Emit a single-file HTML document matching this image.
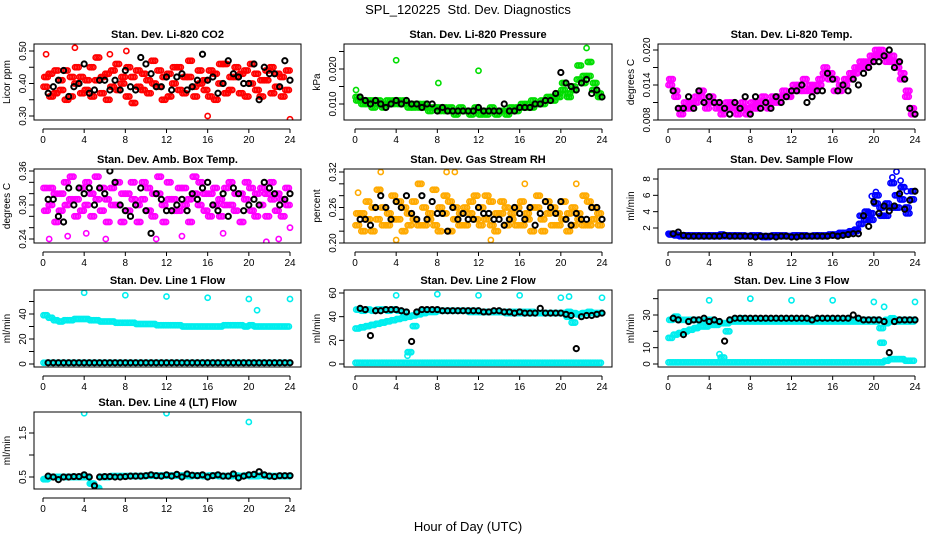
<!DOCTYPE html>
<html><head><meta charset="utf-8"><style>
body{margin:0;background:#fff;}
svg{display:block;font-family:"Liberation Sans",sans-serif;}
</style></head><body>
<svg id="chart" width="936" height="540" viewBox="0 0 936 540">
<text x="468" y="14" text-anchor="middle" font-size="13">SPL_120225&#160; Std. Dev. Diagnostics</text>
<text x="468" y="531" text-anchor="middle" font-size="13">Hour of Day (UTC)</text>
</svg>
<script>
const hourTicks=[0,4,8,12,16,20,24];
const co2A=[0.39,0.43,0.37,0.41,0.44,0.36,0.40,0.42,0.38,0.45,0.41,0.37,0.43,0.39,0.46,0.40,0.36,0.42,0.44,0.38,0.41,0.47,0.39,0.35,0.43,0.40,0.45,0.37,0.42,0.39,0.44,0.41,0.36,0.43,0.40,0.46,0.38,0.42,0.37,0.44,0.40,0.43,0.36,0.41,0.45,0.39,0.42,0.38];
const co2B=[0.42,0.36,0.44,0.38,0.35,0.42,0.45,0.37,0.41,0.36,0.48,0.42,0.35,0.44,0.38,0.42,0.45,0.34,0.39,0.43,0.37,0.40,0.44,0.42,0.36,0.45,0.38,0.42,0.47,0.36,0.40,0.38,0.44,0.35,0.46,0.37,0.42,0.45,0.43,0.36,0.46,0.38,0.41,0.44,0.37,0.43,0.36,0.44];
const co2K=[0.37,0.39,0.41,0.44,0.36,0.39,0.40,0.46,0.37,0.38,0.41,0.41,0.38,0.41,0.38,0.44,0.39,0.38,0.48,0.46,0.43,0.39,0.39,0.42,0.38,0.42,0.43,0.38,0.39,0.41,0.49,0.41,0.42,0.37,0.40,0.47,0.43,0.42,0.40,0.40,0.46,0.35,0.45,0.43,0.43,0.39,0.47,0.41];
const co2OutX=[3.1,8.1,16,24,0.3,6.5];
const co2OutY=[0.51,0.50,0.30,0.29,0.49,0.49];
const presA=[0.012,0.011,0.010,0.011,0.010,0.010,0.011,0.010,0.011,0.010,0.010,0.009,0.010,0.009,0.009,0.009,0.008,0.009,0.008,0.008,0.008,0.008,0.008,0.008,0.007,0.008,0.008,0.008,0.008,0.008,0.009,0.008,0.009,0.010,0.009,0.010,0.011,0.011,0.012,0.013,0.014,0.013,0.015,0.017,0.016,0.018,0.014,0.013];
const presB=[0.011,0.010,0.011,0.009,0.011,0.009,0.010,0.011,0.010,0.011,0.009,0.010,0.009,0.010,0.008,0.009,0.009,0.008,0.009,0.007,0.009,0.008,0.007,0.009,0.008,0.007,0.009,0.007,0.008,0.007,0.008,0.009,0.010,0.009,0.011,0.010,0.010,0.012,0.011,0.012,0.016,0.012,0.014,0.021,0.018,0.022,0.016,0.012];
const presK=[0.012,0.011,0.010,0.011,0.010,0.009,0.010,0.011,0.010,0.011,0.010,0.010,0.009,0.010,0.010,0.008,0.009,0.008,0.008,0.008,0.008,0.008,0.008,0.009,0.008,0.008,0.008,0.008,0.010,0.008,0.008,0.009,0.009,0.009,0.010,0.010,0.011,0.011,0.013,0.019,0.016,0.015,0.014,0.016,0.017,0.013,0.014,0.012];
const presOutX=[4,12,8.1,22.5,0.1];
const presOutY=[0.0225,0.0195,0.016,0.026,0.014];
const tempA=[0.014,0.013,0.010,0.011,0.010,0.011,0.012,0.011,0.012,0.011,0.010,0.010,0.011,0.010,0.010,0.009,0.011,0.010,0.011,0.011,0.012,0.011,0.012,0.012,0.013,0.014,0.013,0.013,0.014,0.014,0.016,0.015,0.015,0.013,0.014,0.015,0.016,0.017,0.018,0.018,0.019,0.020,0.019,0.018,0.018,0.015,0.012,0.010];
const tempB=[0.015,0.012,0.009,0.010,0.011,0.012,0.013,0.010,0.011,0.010,0.009,0.011,0.010,0.009,0.011,0.010,0.010,0.011,0.012,0.010,0.011,0.012,0.013,0.012,0.014,0.013,0.015,0.014,0.013,0.015,0.017,0.016,0.013,0.014,0.015,0.016,0.017,0.018,0.017,0.019,0.020,0.019,0.018,0.019,0.017,0.016,0.013,0.009];
const tempK=[0.013,0.010,0.010,0.012,0.010,0.013,0.011,0.012,0.011,0.011,0.010,0.009,0.011,0.010,0.012,0.009,0.012,0.010,0.011,0.010,0.012,0.011,0.012,0.013,0.013,0.014,0.011,0.012,0.013,0.013,0.016,0.015,0.013,0.014,0.013,0.015,0.014,0.016,0.017,0.018,0.018,0.019,0.020,0.017,0.018,0.015,0.010,0.009];
const ambA=[0.33,0.30,0.32,0.29,0.34,0.31,0.28,0.33,0.30,0.32,0.35,0.29,0.31,0.33,0.30,0.27,0.32,0.34,0.30,0.31,0.33,0.28,0.32,0.30,0.34,0.31,0.29,0.33,0.31,0.35,0.30,0.32,0.28,0.33,0.31,0.30,0.34,0.29,0.32,0.31,0.33,0.28,0.30,0.32,0.34,0.29,0.31,0.33];
const ambB=[0.29,0.33,0.27,0.32,0.30,0.35,0.31,0.29,0.34,0.28,0.31,0.33,0.27,0.30,0.34,0.32,0.29,0.31,0.27,0.34,0.29,0.32,0.35,0.27,0.31,0.29,0.33,0.30,0.27,0.32,0.34,0.29,0.32,0.30,0.28,0.33,0.30,0.32,0.27,0.34,0.29,0.32,0.33,0.28,0.31,0.32,0.28,0.30];
const ambK=[0.31,0.31,0.28,0.27,0.33,0.30,0.33,0.32,0.33,0.30,0.33,0.32,0.36,0.34,0.30,0.29,0.28,0.30,0.33,0.29,0.25,0.32,0.31,0.29,0.29,0.30,0.31,0.29,0.32,0.31,0.33,0.34,0.30,0.29,0.32,0.28,0.33,0.32,0.29,0.30,0.31,0.30,0.34,0.33,0.32,0.30,0.31,0.32];
const ambOutX=[0.6,2.4,4.2,6.1,11,13.5,17.5,21.7,22.9,24];
const ambOutY=[0.24,0.245,0.25,0.24,0.24,0.245,0.25,0.235,0.24,0.26];
const rhA=[0.23,0.25,0.27,0.22,0.24,0.26,0.23,0.28,0.24,0.22,0.25,0.27,0.23,0.26,0.24,0.29,0.22,0.25,0.27,0.24,0.23,0.26,0.25,0.28,0.23,0.24,0.27,0.22,0.25,0.26,0.24,0.23,0.27,0.25,0.22,0.26,0.24,0.27,0.23,0.25,0.24,0.22,0.26,0.25,0.23,0.27,0.24,0.25];
const rhB=[0.25,0.22,0.24,0.26,0.29,0.23,0.25,0.24,0.27,0.26,0.23,0.24,0.30,0.23,0.25,0.23,0.26,0.28,0.22,0.26,0.25,0.23,0.27,0.24,0.26,0.28,0.23,0.25,0.27,0.23,0.25,0.26,0.23,0.24,0.26,0.28,0.22,0.25,0.26,0.23,0.27,0.25,0.23,0.24,0.28,0.23,0.26,0.23];
const rhK=[0.24,0.24,0.23,0.26,0.28,0.26,0.24,0.27,0.26,0.28,0.25,0.24,0.28,0.24,0.27,0.25,0.25,0.22,0.26,0.24,0.25,0.24,0.24,0.26,0.25,0.25,0.24,0.24,0.23,0.24,0.26,0.25,0.24,0.26,0.23,0.25,0.27,0.26,0.25,0.27,0.24,0.23,0.25,0.24,0.24,0.26,0.26,0.24];
const rhOutX=[2.5,4,8.9,9.7,13.2,16.5,21.5,0.3];
const rhOutY=[0.32,0.205,0.32,0.32,0.205,0.30,0.30,0.285];
const flowA=[1.3,1.2,1.1,1.0,1.1,1.0,1.1,1.0,1.1,1.0,1.2,1.0,1.0,1.1,1.0,1.0,1.1,1.0,1.0,0.9,1.0,1.1,1.0,1.0,1.0,1.1,1.0,1.0,1.0,1.1,1.0,1.1,1.2,1.3,1.4,1.5,1.6,2.5,3.0,3.8,5.0,4.5,3.5,4.5,6.0,5.5,4.5,5.5];
const flowB=[1.2,1.1,1.0,1.1,1.0,1.1,1.0,1.1,1.0,1.1,1.0,1.1,1.1,1.0,1.1,1.0,1.0,1.1,0.9,1.0,1.1,1.0,1.1,1.0,1.1,1.0,1.1,1.0,1.1,1.0,1.1,1.2,1.1,1.4,1.3,1.6,1.8,3.5,4.0,3.0,6.0,3.5,5.0,7.5,4.5,7.0,3.8,6.5];
const flowK=[1.3,1.5,1.1,1.0,1.0,1.0,1.0,1.0,1.0,1.0,1.1,1.0,1.0,1.0,1.0,1.0,0.9,1.0,1.0,1.0,0.9,1.0,1.0,0.9,0.9,1.0,1.0,1.0,1.0,1.0,1.0,1.1,1.0,1.1,1.2,1.3,1.3,3.5,2.2,5.2,3.8,4.7,4.1,4.7,6.2,4.3,5.4,6.5];
const flowOutX=[22.2,21.8,22.6,23.2,20.2,19.8];
const flowOutY=[8.9,8.2,7.8,6.5,6.4,5.9];
const l1A=[39,37,35,34,35,35,36,36,36,35,35,34,34,34,33,33,33,33,32,32,32,32,31,31,31,31,31,30,30,30,30,30,30,30,30,31,31,31,31,30,31,30,30,30,30,30,30,30];
const l1Low=[1,1,1,1,1,1,1,1,1,1,1,1,1,1,1,1,1,1,1,1,1,1,1,1,1,1,1,1,1,1,1,1,1,1,1,1,1,1,1,1,1,1,1,1,1,1,1,1];
const l1K=[1,1,1,1,1,1,1,1,1,1,1,1,1,1,1,1,1,1,1,1,1,1,1,1,1,1,1,1,1,1,1,1,1,1,1,1,1,1,1,1,1,1,1,1,1,1,1,1];
const l1OutX=[4,8,12,16,20,20.8,24];
const l1OutY=[57,55,54,53,52,43,52];
const l2A=[30,31,32,33,34,35,36,37,38,39,40,41,42,43,44,44,45,45,45,45,45,45,44,44,44,44,44,44,44,44,44,44,44,44,44,43,43,43,43,43,43,40,35,42,43,43,43,43];
const l2B=[46,45,46,45,46,46,45,46,45,44,10,32,44,45,45,45,45,45,45,45,45,45,45,45,44,44,44,44,44,43,43,43,43,43,43,43,43,43,43,43,43,44,43,42,43,44,43,43];
const l2Low=[1,1,1,1,1,1,1,1,1,1,1,1,1,1,1,1,1,1,1,1,1,1,1,1,1,1,1,1,1,1,1,1,1,1,1,1,1,1,1,1,1,1,1,1,1,1,1,1];
const l2K=[47,46,24,45,45,46,46,46,45,44,19,44,46,46,46,46,45,45,45,45,45,45,45,45,44,44,45,45,44,44,43,44,43,43,43,47,43,43,43,43,42,41,13,40,41,41,42,43];
const l2OutX=[4,5.1,8,12,16,20,20.8,24];
const l2OutY=[58,7,59,58,58,56,57,56];
const l3A=[16,18,19,20,21,22,23,23,24,24,25,25,26,26,26,26,26,26,26,26,26,26,26,26,26,26,26,26,26,26,26,26,26,26,26,26,26,26,26,26,26,22,25,26,26,26,26,26];
const l3B=[27,29,27,27,27,27,26,27,27,26,4,20,27,27,28,27,27,27,27,27,27,27,27,27,27,27,27,27,27,27,27,27,27,27,27,27,27,27,27,27,27,13,27,28,27,27,27,27];
const l3Low=[1,1,1,1,1,1,1,1,1,1,1,1,1,1,1,1,1,1,1,1,1,1,1,1,1,1,1,1,1,1,1,1,1,1,1,1,1,1,1,1,1,1,2,3,3,3,2,2];
const l3K=[28,27,18,26,27,27,28,26,27,26,14,27,28,28,28,28,28,28,28,28,28,28,28,28,28,28,28,27,28,28,28,28,28,28,28,30,28,27,27,27,27,26,7,26,27,27,27,27];
const l3OutX=[4,5,8,12,16,20,21,24];
const l3OutY=[39,6,40,39,39,38,35,38];
const l4A=[0.45,0.50,0.50,0.50,0.50,0.50,0.50,0.50,0.50,0.35,0.25,0.50,0.50,0.52,0.52,0.52,0.52,0.52,0.52,0.52,0.53,0.53,0.53,0.53,0.53,0.53,0.53,0.53,0.52,0.53,0.53,0.52,0.53,0.53,0.52,0.52,0.52,0.53,0.52,0.53,0.52,0.52,0.53,0.52,0.52,0.52,0.52,0.52];
const l4K=[0.52,0.50,0.44,0.50,0.50,0.51,0.51,0.55,0.50,0.30,0.50,0.51,0.51,0.50,0.50,0.51,0.52,0.52,0.52,0.53,0.55,0.53,0.52,0.55,0.52,0.56,0.50,0.57,0.54,0.53,0.55,0.50,0.53,0.55,0.52,0.52,0.57,0.48,0.52,0.55,0.56,0.62,0.55,0.52,0.51,0.53,0.53,0.53];
const l4OutX=[4,12,20];
const l4OutY=[1.95,1.95,1.75];
const NS='http://www.w3.org/2000/svg';
const svg=document.getElementById('chart');
function mk(tag,attrs,parent){const e=document.createElementNS(NS,tag);for(const k in attrs)e.setAttribute(k,attrs[k]);(parent||svg).appendChild(e);return e;}
function panel(p){
  const g=mk('g',{});
  
  
  const xs=t=>p.x0+(p.x24-p.x0)*t/24;
  const ys=v=>p.yA+(p.yB-p.yA)*(v-p.vA)/(p.vB-p.vA);
  const title=mk('text',{x:(p.l+p.r)/2,y:p.t-6,'text-anchor':'middle','font-size':'11','font-weight':'bold'},g);
  title.textContent=p.title;
  
  
  const yt=mk('text',{transform:`translate(${p.l-24},${(p.t+p.b)/2}) rotate(-90)`,'text-anchor':'middle','font-size':'10'},g);
  yt.textContent=p.ylab;
  
  
  const clip='c'+p.name;
  const cp=mk('clipPath',{id:clip},g);mk('rect',{x:p.l,y:p.t,width:p.r-p.l,height:p.b-p.t},cp);
  const pts=mk('g',{'clip-path':`url(#${clip})`},g);
  const draw=(vals,off,col,sw,nm)=>vals.forEach((v,i)=>{const c=mk('circle',{cx:xs(i*0.5+off),cy:ys(v),r:2.6,fill:'none',stroke:col,'stroke-width':sw},pts);
    
    });
  p.series.forEach(s=>{draw(s.v,s.off,p.col,1.6,'point');draw(s.v,s.off+0.17,p.col,1.6,'point');draw(s.v,s.off+0.34,p.col,1.6,'point');});
  if(p.ox)p.ox.forEach((x,i)=>{const c=mk('circle',{cx:xs(x),cy:ys(p.oy[i]),r:2.6,fill:'none',stroke:p.col,'stroke-width':1.6},pts);
    
    });
  p.k.forEach(kv=>draw(kv,0.5,'#000',2,'reference-point'));
  const box=mk('rect',{x:p.l,y:p.t,width:p.r-p.l,height:p.b-p.t,fill:'none',stroke:'#000','stroke-width':1},g);
  
  
  const ay=p.b+9;
  mk('line',{x1:xs(0),x2:xs(24),y1:ay,y2:ay,stroke:'#000'},g);
  hourTicks.forEach(h=>{mk('line',{x1:xs(h),x2:xs(h),y1:ay,y2:ay+4,stroke:'#000'},g);
    const t=mk('text',{x:xs(h),y:ay+14,'text-anchor':'middle','font-size':'10'},g);t.textContent=h;
    
    });
  const ax=p.l;
  mk('line',{x1:ax,x2:ax,y1:ys(p.yt[0]),y2:ys(p.yt[p.yt.length-1]),stroke:'#000'},g);
  p.yt.forEach((v,i)=>{mk('line',{x1:ax-5,x2:ax,y1:ys(v),y2:ys(v),stroke:'#000'},g);
    if(p.yl[i]){const t=mk('text',{transform:`translate(${ax-8},${ys(v)}) rotate(-90)`,'text-anchor':'middle','font-size':'10'},g);t.textContent=p.yl[i];
    
    }});
}
const C1={l:34,r:301,x0:43,x24:290},C2={l:344,r:612,x0:355,x24:602},C3={l:658,r:925,x0:668,x24:915};
const R1={t:44,b:120},R2={t:169,b:243},R3={t:290,b:367},R4={t:412,b:489};
panel({...C1,...R1,name:'co2-panel',title:'Stan. Dev. Li-820 CO2',ylab:'Licor ppm',col:'#ff0000',vA:0.30,vB:0.50,yA:116,yB:51,yt:[0.30,0.35,0.40,0.45,0.50],yl:['0.30','','0.40','','0.50'],series:[{v:co2A,off:0.05},{v:co2B,off:0.12}],k:[co2K],ox:co2OutX,oy:co2OutY});
panel({...C2,...R1,name:'pressure-panel',title:'Stan. Dev. Li-820 Pressure',ylab:'kPa',col:'#00dd00',vA:0.010,vB:0.020,yA:104,yB:69,yt:[0.010,0.015,0.020,0.025],yl:['0.010','','0.020',''],series:[{v:presA,off:0.05},{v:presB,off:0.12}],k:[presK],ox:presOutX,oy:presOutY});
panel({...C3,...R1,name:'li820-temp-panel',title:'Stan. Dev. Li-820 Temp.',ylab:'degrees C',col:'#ff00ff',vA:0.008,vB:0.020,yA:120,yB:50,yt:[0.008,0.011,0.014,0.017,0.020],yl:['0.008','','0.014','','0.020'],series:[{v:tempA,off:0.05},{v:tempB,off:0.12}],k:[tempK]});
panel({...C1,...R2,name:'amb-box-temp-panel',title:'Stan. Dev. Amb. Box Temp.',ylab:'degrees C',col:'#ff00ff',vA:0.24,vB:0.36,yA:239,yB:171,yt:[0.24,0.26,0.28,0.30,0.32,0.34,0.36],yl:['0.24','','','0.30','','','0.36'],series:[{v:ambA,off:0.05},{v:ambB,off:0.12}],k:[ambK],ox:ambOutX,oy:ambOutY});
panel({...C2,...R2,name:'gas-rh-panel',title:'Stan. Dev. Gas Stream RH',ylab:'percent',col:'#ffaa00',vA:0.20,vB:0.32,yA:243,yB:172,yt:[0.20,0.22,0.24,0.26,0.28,0.30,0.32],yl:['0.20','','','0.26','','','0.32'],series:[{v:rhA,off:0.05},{v:rhB,off:0.12}],k:[rhK],ox:rhOutX,oy:rhOutY});
panel({...C3,...R2,name:'sample-flow-panel',title:'Stan. Dev. Sample Flow',ylab:'ml/min',col:'#0000ff',vA:2,vB:8,yA:228,yB:179,yt:[2,4,6,8],yl:['2','4','6','8'],series:[{v:flowA,off:0.05},{v:flowB,off:0.12}],k:[flowK],ox:flowOutX,oy:flowOutY});
panel({...C1,...R3,name:'line1-flow-panel',title:'Stan. Dev. Line 1 Flow',ylab:'ml/min',col:'#00eeee',vA:0,vB:40,yA:364,yB:314,yt:[0,10,20,30,40,50],yl:['0','','20','','40',''],series:[{v:l1A,off:0.05},{v:l1Low,off:0.05}],k:[l1K],ox:l1OutX,oy:l1OutY});
panel({...C2,...R3,name:'line2-flow-panel',title:'Stan. Dev. Line 2 Flow',ylab:'ml/min',col:'#00eeee',vA:0,vB:60,yA:364,yB:293,yt:[0,20,40,60],yl:['0','20','40','60'],series:[{v:l2A,off:0.05},{v:l2B,off:0.12},{v:l2Low,off:0.05}],k:[l2K],ox:l2OutX,oy:l2OutY});
panel({...C3,...R3,name:'line3-flow-panel',title:'Stan. Dev. Line 3 Flow',ylab:'ml/min',col:'#00eeee',vA:0,vB:30,yA:364,yB:315,yt:[0,10,20,30,40],yl:['0','10','','30',''],series:[{v:l3A,off:0.05},{v:l3B,off:0.12},{v:l3Low,off:0.05}],k:[l3K],ox:l3OutX,oy:l3OutY});
panel({...C1,...R4,name:'line4-flow-panel',title:'Stan. Dev. Line 4 (LT) Flow',ylab:'ml/min',col:'#00eeee',vA:0.5,vB:1.5,yA:477,yB:433,yt:[0.5,1.0,1.5],yl:['0.5','','1.5'],series:[{v:l4A,off:0.05},{v:l4A,off:0.12}],k:[l4K],ox:l4OutX,oy:l4OutY});
</script>
</body></html>
